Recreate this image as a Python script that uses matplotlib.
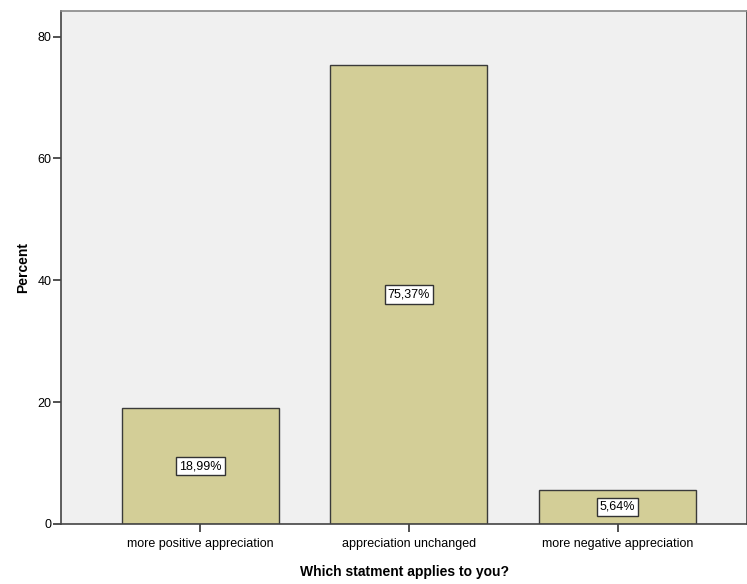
import matplotlib
matplotlib.use("Agg")
import matplotlib.pyplot as plt

categories = ["more positive appreciation", "appreciation unchanged", "more negative appreciation"]
percents = [18.99, 75.37, 5.64]
labels = ["18,99%", "75,37%", "5,64%"]

plt.rcParams['font.family'] = ['Liberation Sans', 'DejaVu Sans']

fig = plt.figure(figsize=(7.47, 5.84), dpi=100)
ax = fig.add_axes([61 / 747, 60 / 584, 686 / 747, 513 / 584])
ax.set_facecolor("#f0f0f0")

x = range(len(categories))
ax.bar(x, percents, width=0.753, color="#d3ce97", edgecolor="#3a3a3a", linewidth=1.0, zorder=2)

for i, (v, lab) in enumerate(zip(percents, labels)):
    ax.text(i, v / 2, lab, ha="center", va="center", fontsize=9, zorder=3,
            bbox=dict(boxstyle="square,pad=0.25", facecolor="white", edgecolor="#333333", linewidth=1.0))

ax.set_xlim(-0.667, 2.62)
ax.set_ylim(0, 84.2)
ax.set_yticks([0, 20, 40, 60, 80])
ax.set_xticks(list(x))
ax.set_xticklabels(categories, fontsize=9)
ax.tick_params(axis="y", labelsize=9, length=6, width=1.2, color="#333333", pad=1)
ax.tick_params(axis="x", length=6, width=1.2, color="#333333", pad=4)

for s in ["top", "right", "left", "bottom"]:
    ax.spines[s].set_color("#444444")
    ax.spines[s].set_linewidth(1.2)
ax.spines["top"].set_color("#888888")

ax.set_ylabel("Percent", fontsize=10, fontweight="bold", labelpad=5)
ax.set_xlabel("Which statment applies to you?", fontsize=10, fontweight="bold", labelpad=11)

fig.savefig("out.png", dpi=100)
